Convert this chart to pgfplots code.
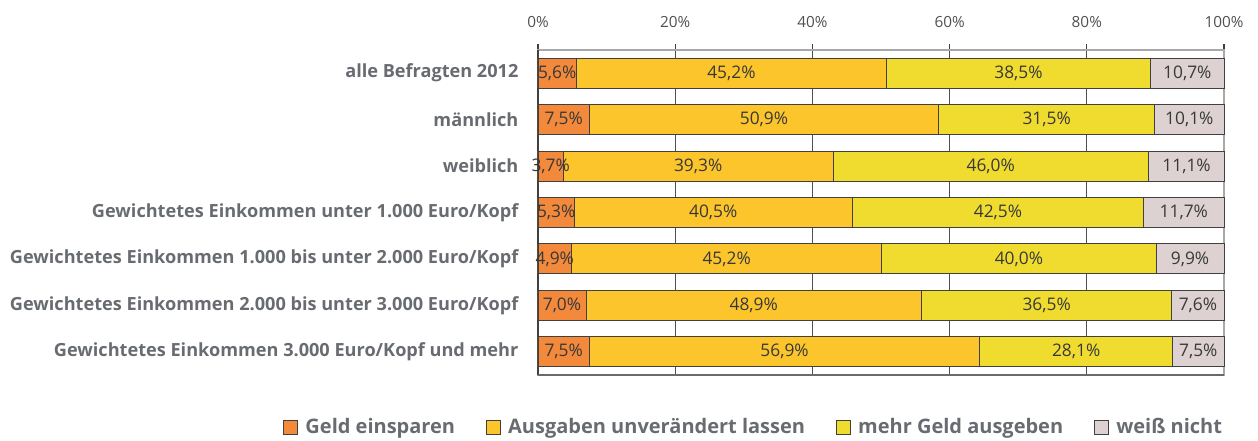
\documentclass[border=0pt]{standalone}
\usepackage{pgfplots}
\pgfplotsset{compat=1.18}
\usepackage{pgfplotstable}
\usepackage{fontspec}
\setmainfont{Open Sans}
\definecolor{cA}{HTML}{F3893A}
\definecolor{cB}{HTML}{FBC52B}
\definecolor{cC}{HTML}{F0DC2F}
\definecolor{cD}{HTML}{DDD1D1}
\definecolor{lbl}{HTML}{686C71}
\definecolor{tck}{HTML}{505050}
\definecolor{val}{HTML}{383838}
\definecolor{edge}{HTML}{404040}
\definecolor{frame}{HTML}{A8A8A8}
\pgfplotstableread{
y a b c d
0 5.6 45.2 38.5 10.7
1 7.5 50.9 31.5 10.1
2 3.7 39.3 46.0 11.1
3 5.3 40.5 42.5 11.7
4 4.9 45.2 40.0 9.9
5 7.0 48.9 36.5 7.6
6 7.5 56.9 28.1 7.5
}\data
\begin{document}
\begin{tikzpicture}
\path[use as bounding box] (0,0) rectangle (943.5pt,330pt);
\begin{axis}[
  at={(403.5pt,48.75pt)}, anchor=south west,
  width=514.5pt, height=243.75pt, scale only axis,
  xbar stacked, bar width=0.646,
  xmin=0, xmax=100, ymin=-0.5, ymax=6.5, y dir=reverse,
  clip=false,
  axis line style={draw=frame, line width=1.1pt},
  xtick={0,20,40,60,80,100},
  xticklabels={0\%,20\%,40\%,60\%,80\%,100\%},
  xtick pos=right, xticklabel pos=right,
  tick align=outside,
  major tick length=4.5pt,
  minor tick length=5.5pt,
  tick style={draw=edge, line width=0.8pt},
  xmajorgrids, grid style={draw=tck, line width=0.6pt},
  xticklabel style={font=\fontsize{11.5}{14}\selectfont, text=tck, anchor=south, inner sep=0pt, yshift=12pt},
  ytick={0,1,2,3,4,5,6},
  yticklabels={alle Befragten 2012, männlich, weiblich,
    Gewichtetes Einkommen unter 1.000 Euro/Kopf,
    Gewichtetes Einkommen 1.000 bis unter 2.000 Euro/Kopf,
    Gewichtetes Einkommen 2.000 bis unter 3.000 Euro/Kopf,
    Gewichtetes Einkommen 3.000 Euro/Kopf und mehr},
  ytick pos=left, ytick style={draw=none},
  minor ytick={-0.5,0.5,1.5,2.5,3.5,4.5,5.5,6.5},
  minor tick style={draw=edge, line width=0.8pt},
  yticklabel style={font=\bfseries\fontsize{13.6}{15}\selectfont, text=lbl, anchor=east, inner sep=0pt, xshift=-10pt},
  point meta=explicit,
  nodes near coords={\pgfmathprintnumber[assume math mode=true,fixed,fixed zerofill,precision=1,use comma]{\pgfplotspointmeta}\%},
  nodes near coords align=center,
  every node near coord/.append style={font=\fontsize{13}{15}\selectfont, text=val, anchor=center},
  legend columns=4,
  area legend,
  legend image code/.code={\draw[#1, draw=edge, line width=0.6pt] (0pt,-5.25pt) rectangle (10.5pt,5.25pt);\path[draw=none, fill=none] (10.5pt,0pt) -- (14.5pt,0pt);},
  legend style={draw=none, fill=none, at={(1.0015,-0.161)}, anchor=east, inner sep=0pt,
    font=\bfseries\fontsize{15}{17}\selectfont, text=lbl,
    /tikz/every even column/.append style={column sep=21pt}},
]
\addplot[fill=cA, draw=edge, line width=0.7pt] table[x=a, y=y, meta=a] {\data};
\addplot[fill=cB, draw=edge, line width=0.7pt] table[x=b, y=y, meta=b] {\data};
\addplot[fill=cC, draw=edge, line width=0.7pt] table[x=c, y=y, meta=c] {\data};
\addplot[fill=cD, draw=edge, line width=0.7pt] table[x=d, y=y, meta=d] {\data};
\legend{Geld einsparen, Ausgaben unverändert lassen, mehr Geld ausgeben, weiß nicht}
\draw[draw=tck!85, line width=1.5pt] (rel axis cs:0,0) -- (rel axis cs:1,0);
\draw[draw=edge, line width=1.1pt] (rel axis cs:0,0) -- (rel axis cs:0,1);
\end{axis}
\end{tikzpicture}
\end{document}
